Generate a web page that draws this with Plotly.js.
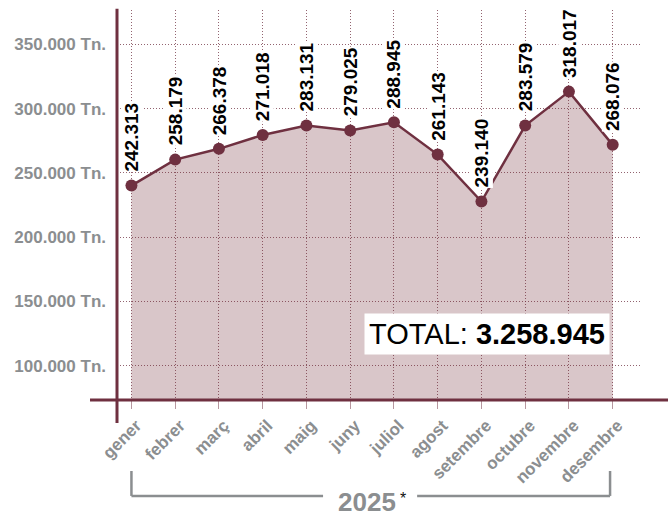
<!DOCTYPE html>
<html>
<head>
<meta charset="utf-8">
<script src="https://cdn.plot.ly/plotly-3.0.1.min.js"></script>
<style>html,body{margin:0;padding:0;background:#fff;}#chart{width:668px;height:517px;}</style>
</head>
<body>
<div id="chart"></div>
<script>
const months = ['gener','febrer','març','abril','maig','juny','juliol','agost','setembre','octubre','novembre','desembre'];
const values = [240100, 260300, 268700, 279500, 286800, 282900, 289400, 264200, 227700, 286800, 313200, 271800];
const valueLabels = ['242.313','258.179','266.378','271.018','283.131','279.025','288.945','261.143','239.140','283.579','318.017','268.076'];
const yTickVals = [100000, 150000, 200000, 250000, 300000, 350000];
const yTickText = ['100.000 Tn.','150.000 Tn.','200.000 Tn.','250.000 Tn.','300.000 Tn.','350.000 Tn.'];
const totalText = 'TOTAL: <b>3.258.945</b>';
const yearText = '2025';
const yearNote = '*';

const FONT = 'Liberation Sans, Arial, Helvetica, sans-serif';
const MAROON = '#6f3040';
const GRAY = '#8b8e90';
const GRID = 'rgba(111,48,64,0.75)';

const trace = {
  type: 'scatter',
  mode: 'lines+markers',
  x: months,
  y: values,
  fill: 'tozeroy',
  fillcolor: 'rgba(120,50,60,0.28)',
  line: {color: MAROON, width: 2.5},
  marker: {color: MAROON, size: 12},
  hoverinfo: 'skip'
};

const annotations = months.map((m, i) => ({
  x: m, y: values[i], xref: 'x', yref: 'y',
  text: valueLabels[i], textangle: -90, showarrow: false,
  xanchor: 'center', yanchor: 'bottom', yshift: 13,
  bgcolor: '#ffffff', borderpad: 0,
  font: {family: FONT, size: 19, color: '#000', weight: 'bold'}
}));
annotations.push({
  xref: 'paper', yref: 'paper', x: 0.705, y: 0.169,
  text: totalText, showarrow: false, xanchor: 'center', yanchor: 'middle',
  bgcolor: '#ffffff', borderpad: 4,
  font: {family: FONT, size: 29, color: '#000'}
});
annotations.push({
  xref: 'paper', yref: 'paper', x: 0.4762, y: -0.2603,
  text: yearText, showarrow: false, xanchor: 'center', yanchor: 'middle',
  height: 22, valign: 'middle',
  font: {family: FONT, size: 26, color: GRAY, weight: 'bold'}
});
annotations.push({
  xref: 'paper', yref: 'paper', x: 0.5448, y: -0.2513,
  text: yearNote, showarrow: false, xanchor: 'center', yanchor: 'middle',
  font: {family: FONT, size: 16, color: '#111'}
});

const yTop = -0.182, yBot = -0.246;
const shapes = [
  {type: 'line', xref: 'paper', yref: 'paper', x0: -0.0514, x1: 1.05, y0: 0, y1: 0, line: {color: MAROON, width: 3}, layer: 'above'},
  {type: 'line', xref: 'paper', yref: 'paper', x0: 0, x1: 0, y0: 1.003, y1: -0.059, line: {color: MAROON, width: 3}, layer: 'above'},
  {type: 'line', xref: 'x', yref: 'paper', x0: 0, x1: 0, y0: yTop, y1: yBot, line: {color: GRAY, width: 2.5}},
  {type: 'line', xref: 'x', yref: 'paper', x0: 0, x1: 4.38, y0: yBot, y1: yBot, line: {color: GRAY, width: 2.5}},
  {type: 'line', xref: 'x', yref: 'paper', x0: 6.53, x1: 10.94, y0: yBot, y1: yBot, line: {color: GRAY, width: 2.5}},
  {type: 'line', xref: 'x', yref: 'paper', x0: 10.94, x1: 10.94, y0: yBot, y1: yTop, line: {color: GRAY, width: 2.5}}
];

const layout = {
  width: 668, height: 517,
  margin: {l: 117, r: 26, t: 10, b: 117},
  paper_bgcolor: '#fff', plot_bgcolor: '#fff',
  showlegend: false,
  xaxis: {
    type: 'category', range: [-0.33, 11.67],
    showgrid: true, gridcolor: GRID, gridwidth: 1, griddash: '1px,2px',
    showline: false, zeroline: false,
    ticks: 'outside', ticklen: 8, tickwidth: 1, tickcolor: 'rgba(111,48,64,0.5)',
    tickangle: -45, ticklabelshift: 5,
    tickfont: {family: FONT, size: 17, color: GRAY, weight: 'bold'}
  },
  yaxis: {
    range: [73300, 376700],
    tickvals: yTickVals, ticktext: yTickText,
    showgrid: true, gridcolor: GRID, gridwidth: 1, griddash: '1px,2px',
    showline: false, zeroline: false, ticks: '',
    ticklabelstandoff: 10,
    tickfont: {family: FONT, size: 17, color: GRAY, weight: 'bold'}
  },
  annotations: annotations,
  shapes: shapes
};

Plotly.newPlot('chart', [trace], layout, {displayModeBar: false, staticPlot: true});
</script>
</body>
</html>
